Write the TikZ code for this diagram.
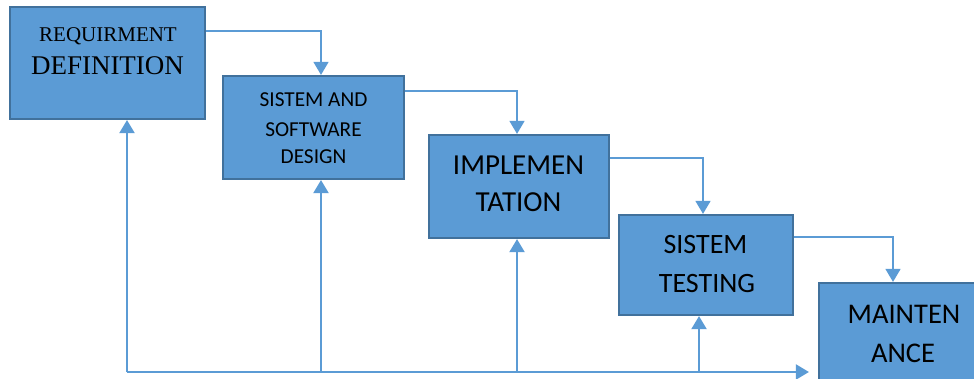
\documentclass[tikz,border=0pt]{standalone}
\usepackage{fontspec}
\setmainfont{Liberation Serif}
\newfontfamily\calib{Carlito}
\usetikzlibrary{arrows.meta}
\definecolor{boxfill}{HTML}{5B9BD5}
\definecolor{boxedge}{HTML}{41719C}
\definecolor{flowline}{HTML}{5B9BD5}
\tikzset{
  phase/.style={draw=boxedge, line width=2.2pt, fill=boxfill, rectangle,
    inner sep=0pt, minimum width=#1},
  txt/.style={anchor=base, inner sep=0pt, text=black},
  tip/.style={-{Triangle[width=15pt,length=13pt]}},
  flow/.style={draw=flowline, line width=1.5pt, tip},
  back/.style={draw=flowline, line width=2pt},
}
\begin{document}
\begin{tikzpicture}[x=1pt,y=-1pt]
\useasboundingbox (0,0) rectangle (974,379);
\clip (0,0) rectangle (974,379);

% phase boxes
\node[phase=195pt, minimum height=112pt] (req) at (107.5,63) {};
\node[phase=181pt, minimum height=103pt] (des) at (313.5,127.5) {};
\node[phase=180pt, minimum height=103pt] (imp) at (519,186.5) {};
\node[phase=174pt, minimum height=100pt] (tst) at (706,265) {};
\node[phase=176pt, minimum height=102pt] (mnt) at (907,334) {};

% box labels
\node[txt, font=\fontsize{21}{21}\selectfont] (reqA) at (108,42) {REQUIRMENT};
\node[txt, font=\fontsize{27}{27}\selectfont] (reqB) at (107.5,75) {DEFINITION};
\node[txt, font=\calib\fontsize{21.3}{21.3}\selectfont] (desA) at (313.5,107) {SISTEM AND};
\node[txt, font=\calib\fontsize{21.3}{21.3}\selectfont] (desB) at (313.5,136.5) {SOFTWARE};
\node[txt, font=\calib\fontsize{21.3}{21.3}\selectfont] (desC) at (313.5,164) {DESIGN};
\node[txt, font=\calib\fontsize{29}{29}\selectfont] (impA) at (518.5,175) {IMPLEMEN};
\node[txt, font=\calib\fontsize{29}{29}\selectfont] (impB) at (518.5,212) {TATION};
\node[txt, font=\calib\fontsize{28}{28}\selectfont] (tstA) at (705.5,254) {SISTEM};
\node[txt, font=\calib\fontsize{28}{28}\selectfont] (tstB) at (707,292) {TESTING};
\node[txt, font=\calib\fontsize{28.5}{28.5}\selectfont] (mntA) at (904,323) {MAINTEN};
\node[txt, font=\calib\fontsize{28.5}{28.5}\selectfont] (mntB) at (903,362) {ANCE};

% forward flow between phases
\draw[flow] ([yshift=-25pt]req.north east) -| ([xshift=7.5pt]des.north);
\draw[flow] ([yshift=-16pt]des.north east) -| ([xshift=-2pt]imp.north);
\draw[flow] ([yshift=-24pt]imp.north east) -| ([xshift=-3pt]tst.north);
\draw[flow] ([yshift=-23pt]tst.north east) -| ([xshift=-14pt]mnt.north);

% feedback bus along the bottom
\coordinate (b1) at (127,372);
\coordinate (b2) at (321,372);
\coordinate (b3) at (517,372);
\coordinate (b4) at (699,372);
\draw[back, tip, shorten >=9pt] (b1) -- (b1 -| mnt.west);
\draw[back, tip] (b1) -- (b1 |- req.south);
\draw[back, tip] (b2) -- (b2 |- des.south);
\draw[back, tip] (b3) -- (b3 |- imp.south);
\draw[back, tip] (b4) -- (b4 |- tst.south);
\end{tikzpicture}
\end{document}
